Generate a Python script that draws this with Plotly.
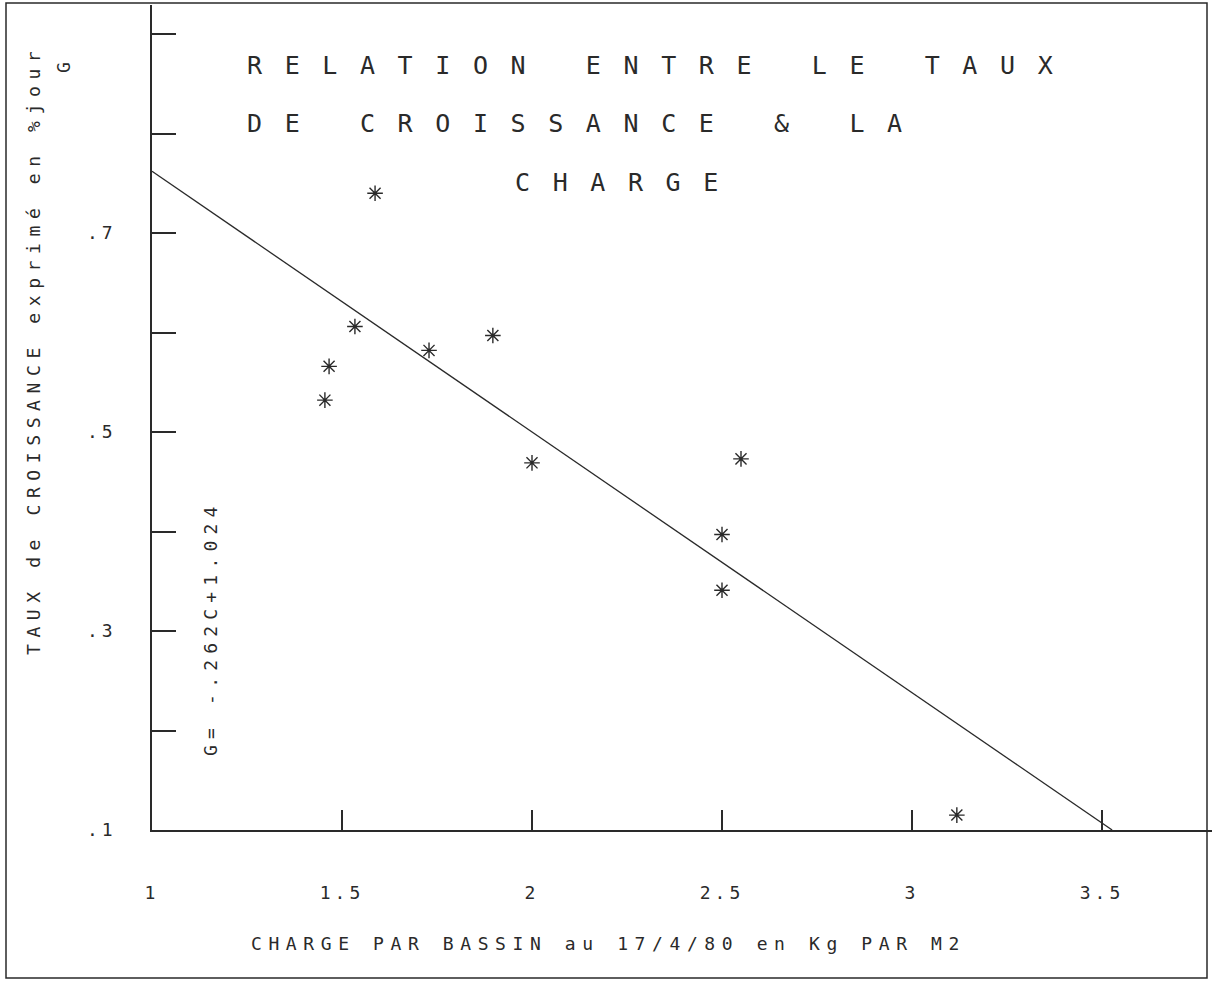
import plotly.graph_objects as go

# ---- data ----
charge = [1.455, 1.466, 1.534, 1.587, 1.729, 1.897, 2.0, 2.5, 2.5, 2.55, 3.118]
taux = [0.532, 0.566, 0.606, 0.740, 0.582, 0.597, 0.469, 0.397, 0.341, 0.473, 0.115]

slope = -0.262
intercept = 1.024

x_tickvals = [1, 1.5, 2, 2.5, 3, 3.5]
x_ticklabels = ["1", "1.5", "2", "2.5", "3", "3.5"]
y_tickvals = [0.1, 0.2, 0.3, 0.4, 0.5, 0.6, 0.7, 0.8, 0.9]
y_ticklabels = [".1", "", ".3", "", ".5", "", ".7", "", ""]

title_lines = ["RELATION ENTRE LE TAUX", "DE CROISSANCE & LA", "CHARGE"]
x_title = "CHARGE PAR BASSIN au 17/4/80 en Kg PAR M2"
y_title = "TAUX de CROISSANCE exprimé en %jour"
y_var = "G"
equation = "G= -.262C+1.024"

# ---- layout geometry ----
W, H = 1212, 982
ML, MR, MT, MB = 152, 0, 5, 152
PW, PH = W - ML - MR, H - MT - MB
X0, X1 = 1.0, 1.0 + PW / 380.0
Y0, Y1 = 0.1, 0.1 + PH / 995.0

FONT = "DejaVu Sans Mono"
INK = "#2a2a2a"


def px(xp):
    return (xp - ML) / PW


def py(yp):
    return (H - MB - yp) / PH


def spaced(s, sp):
    return '<span style="letter-spacing:%spx">%s</span>' % (sp, s)


y_min = Y0
x_end = (y_min - intercept) / slope
line_x = [X0, x_end]
line_y = [intercept + slope * X0, y_min]

fig = go.Figure()
fig.add_trace(go.Scatter(x=line_x, y=line_y, mode="lines",
                         line=dict(color=INK, width=1.3), cliponaxis=False,
                         showlegend=False, hoverinfo="skip"))
fig.add_trace(go.Scatter(x=charge, y=taux, mode="markers",
                         marker=dict(symbol="asterisk-open", size=13, color=INK,
                                     line=dict(color=INK, width=1.4)),
                         showlegend=False))

fig.update_layout(
    width=W, height=H,
    margin=dict(l=ML, r=MR, t=MT, b=MB, autoexpand=False),
    paper_bgcolor="white", plot_bgcolor="white",
    font=dict(family=FONT, color=INK, size=18),
    xaxis=dict(range=[X0, X1], showgrid=False, zeroline=False, automargin=False,
               showline=True, linecolor=INK, linewidth=1.6,
               ticks="inside", ticklen=20, tickwidth=1.6, tickcolor=INK,
               tickvals=x_tickvals,
               ticktext=[spaced(t, 4) for t in x_ticklabels],
               ticklabelstandoff=46,
               tickfont=dict(family=FONT, size=18, color=INK)),
    yaxis=dict(range=[Y0, Y1], showgrid=False, zeroline=False, automargin=False,
               showline=True, linecolor=INK, linewidth=1.6,
               ticks="inside", ticklen=24, tickwidth=1.6, tickcolor=INK,
               tickvals=y_tickvals,
               ticktext=[spaced(t, 4) for t in y_ticklabels],
               ticklabelstandoff=30,
               tickfont=dict(family=FONT, size=18, color=INK)),
)

# outer frame
fig.add_shape(type="rect", xref="paper", yref="paper",
              x0=px(6), x1=px(1207), y0=py(978), y1=py(3),
              line=dict(color=INK, width=1.5))

# title lines (plotter style, wide letter spacing)
title_pos = [(245, 65), (245, 123), (513, 182)]
for txt, (xp, yp) in zip(title_lines, title_pos):
    fig.add_annotation(xref="paper", yref="paper", x=px(xp), y=py(yp),
                       xanchor="left", yanchor="middle", showarrow=False,
                       text=spaced(txt, 22.6),
                       font=dict(family=FONT, size=25, color=INK))

# x-axis title
fig.add_annotation(xref="paper", yref="paper", x=px(608), y=py(943),
                   xanchor="center", yanchor="middle", showarrow=False,
                   text=spaced(x_title, 6.6),
                   font=dict(family=FONT, size=18, color=INK))

# y-axis title (rotated)
fig.add_annotation(xref="paper", yref="paper", x=px(33), y=py(350),
                   xanchor="center", yanchor="middle", showarrow=False,
                   textangle=-90, text=spaced(y_title, 6.6),
                   font=dict(family=FONT, size=18, color=INK))
fig.add_annotation(xref="paper", yref="paper", x=px(63), y=py(68),
                   xanchor="center", yanchor="middle", showarrow=False,
                   textangle=-90, text=y_var,
                   font=dict(family=FONT, size=18, color=INK))

# regression equation (rotated)
fig.add_annotation(xref="paper", yref="paper", x=px(210), y=py(628),
                   xanchor="center", yanchor="middle", showarrow=False,
                   textangle=-90, text=spaced(equation, 6.2),
                   font=dict(family=FONT, size=18, color=INK))

fig.write_html("out.html")
